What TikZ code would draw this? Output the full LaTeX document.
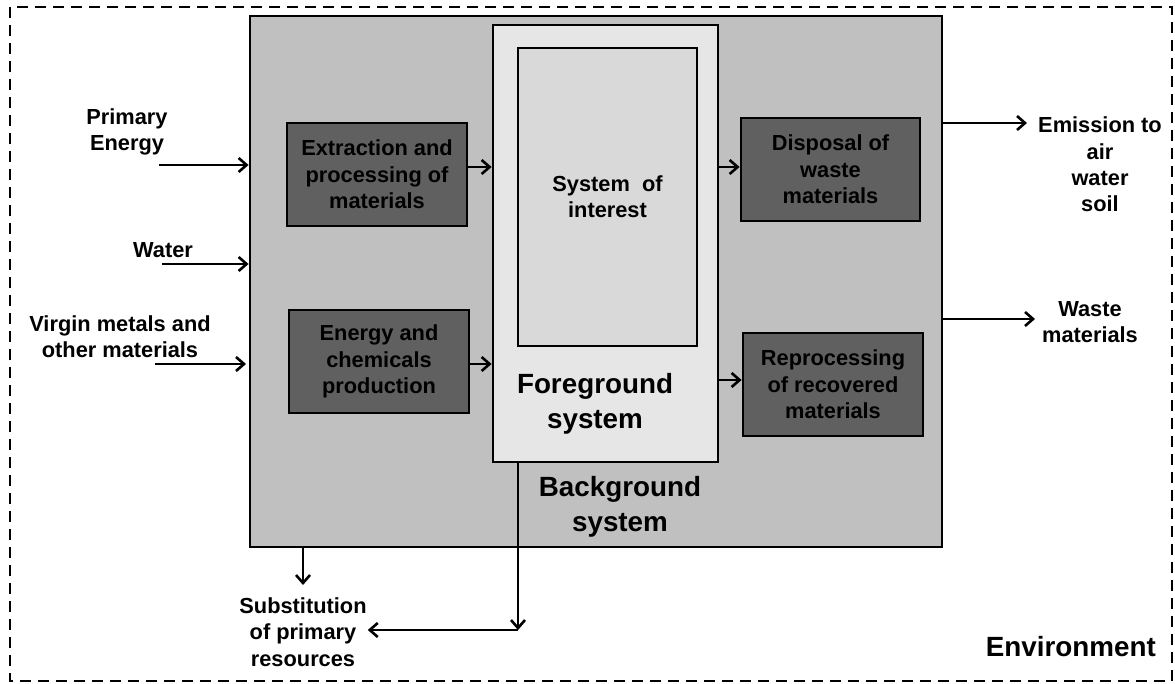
\documentclass[tikz,border=0pt]{standalone}
\usepackage{fontspec}
\setmainfont{Liberation Sans}
\usetikzlibrary{arrows.meta}
\begin{document}
\begin{tikzpicture}[x=1pt,y=-1pt,
  every node/.style={font=\fontsize{21.8}{26.3}\selectfont\bfseries, align=center, inner sep=1pt},
  bigtext/.style={font=\fontsize{27.8}{35}\selectfont\bfseries},
  frame/.style={draw=black, line width=2.8pt},
  procbox/.style={frame, fill=procgray, minimum width=180pt, minimum height=103pt},
  arr/.style={line width=2.6pt, -{Straight Barb[length=8pt,width=14pt,line width=2.6pt]}},
  plain/.style={line width=2.6pt}]
\definecolor{procgray}{RGB}{96,96,96}
\definecolor{bggray}{RGB}{192,192,192}
\definecolor{fggray}{RGB}{230,230,230}
\definecolor{soigray}{RGB}{217,217,217}
\useasboundingbox (0,0) rectangle (1175,684);

% environment boundary
\draw[line width=2.8pt, dash pattern=on 11pt off 7pt] (10,7) rectangle (1172,681);
\node[bigtext, anchor=east] (env) at (1157,647) {Environment};

% background, foreground and system of interest
\node[frame, fill=bggray, minimum width=692pt, minimum height=531pt] (bg) at (596,281.5) {};
\node[frame, fill=fggray, minimum width=225pt, minimum height=437pt] (fg) at (605.5,243.5) {};
\node[frame, fill=soigray, minimum width=179pt, minimum height=298pt] (soi) at (607.5,197) {System~ of\\interest};
\node[bigtext] (fgt) at (595,404) {Foreground\\system};
\node[bigtext] (bgt) at (620,507) {Background\\system};

% processes of the background system
\node[procbox] (ext) at (377,174.5) {Extraction and\\processing of\\materials};
\node[procbox] (ene) at (379,361.5) {Energy and\\chemicals\\production};
\node[procbox, minimum width=179pt] (dis) at (830.5,169.5) {Disposal of\\waste\\materials};
\node[procbox] (rep) at (833,384.5) {Reprocessing\\of recovered\\materials};

% inputs
\node (pe) at (127,132) {Primary\\Energy};
\node (wa) at (163,250) {Water};
\node (vm) at (120,337) {Virgin metals and\\other materials};
\coordinate (pein) at (159,165);
\coordinate (wain) at (162,264);
\coordinate (vmin) at (155,364);
\draw[arr] (pein) -- (pein -| bg.west);
\draw[arr] (wain) -- (wain -| bg.west);
\draw[arr] (vmin) -- (246,364);

% internal flows
\draw[arr] ([yshift=7.5pt]ext.east) -- ([yshift=7.5pt]ext.east -| fg.west);
\draw[arr] ([yshift=-2.5pt]ene.east) -- ([yshift=-2.5pt]ene.east -| fg.west);
\draw[arr] ([yshift=2.5pt]dis.west -| fg.east) -- ([yshift=2.5pt]dis.west);
\draw[arr] ([yshift=4.5pt]rep.west -| fg.east) -- ([yshift=4.5pt]rep.west);

% outputs
\node (em) at (1100,164.5) {Emission to\\air\\water\\soil};
\node (wm) at (1090,322) {Waste\\materials};
\coordinate (emin) at (1027,123);
\coordinate (wmin) at (1035,319);
\draw[arr] (emin -| bg.east) -- (emin);
\draw[arr] (wmin -| bg.east) -- (wmin);

% substitution of primary resources
\node (sub) at (303,632) {Substitution\\of primary\\resources};
\coordinate (bgout) at (303,547);
\coordinate (bgend) at (303,585);
\draw[arr] (bgout) -- (bgend);
\coordinate (fgout) at (518,462);
\coordinate (corner) at (518,630);
\draw[arr] (fgout) -- (corner);
\draw[arr] (corner) -- (corner -| sub.east);
\end{tikzpicture}
\end{document}
